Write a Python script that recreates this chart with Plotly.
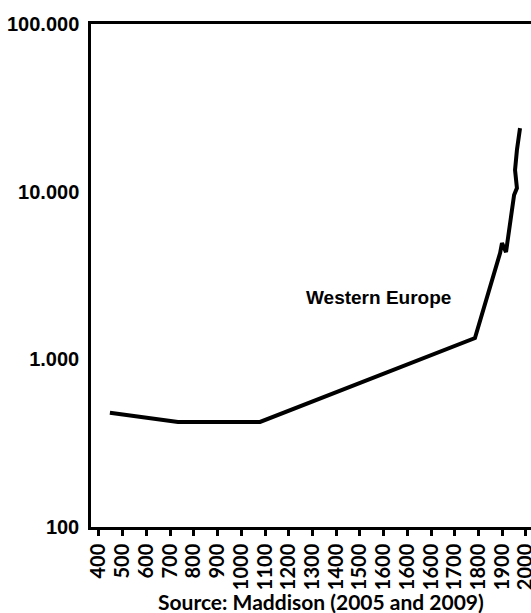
import plotly.graph_objects as go

# Tick labels as printed on the reference (note the repeated 1600)
tick_labels = ["400", "500", "600", "700", "800", "900", "1000", "1100", "1200",
               "1300", "1400", "1500", "1600", "1600", "1600", "1700", "1800",
               "1900", "2000"]
tick_positions = [400 + 100 * i for i in range(len(tick_labels))]

# Western Europe series (positions on the printed axis, GDP per capita)
we_x = [446, 733, 1079, 1985, 2091, 2099, 2116, 2124, 2141, 2150, 2162, 2154, 2162, 2175]
we_y = [480, 423, 423, 1340, 4305, 4935, 4363, 5147, 7557, 9545, 10500, 13450, 17700, 23940]

y_tickvals = [100, 1000, 10000, 100000]
y_ticktext = ["100", "1.000", "10.000", "100.000"]

fig = go.Figure()
fig.add_trace(go.Scatter(x=we_x, y=we_y, mode="lines",
                         line=dict(color="black", width=4),
                         hoverinfo="skip", showlegend=False))

fig.update_layout(
    width=531, height=613,
    margin=dict(l=91, r=0, t=24, b=86),
    paper_bgcolor="white", plot_bgcolor="white",
    showlegend=False,
    xaxis=dict(
        range=[366.3, 2221.3], automargin=False,
        tickmode="array", tickvals=tick_positions, ticktext=tick_labels,
        tickangle=-90, ticklabeloverflow="allow",
        ticks="outside", ticklen=6, tickwidth=2.5, tickcolor="black",
        showline=True, linecolor="black", linewidth=2.5, mirror=True,
        showgrid=False, zeroline=False,
        tickfont=dict(family="Lato", size=20, color="black", weight="bold"),
    ),
    yaxis=dict(
        type="log", range=[2, 5], automargin=False,
        tickmode="array", tickvals=y_tickvals, ticktext=y_ticktext,
        ticks="", showline=True, linecolor="black", linewidth=2.5,
        showgrid=False, zeroline=False, ticklabelstandoff=5,
        tickfont=dict(family="Liberation Sans", size=20, color="black", weight="bold"),
    ),
    annotations=[
        dict(x=1580, y=3.371, xref="x", yref="y", text="Western Europe",
             showarrow=False, font=dict(family="Liberation Sans", size=19, color="black", weight="bold")),
        dict(x=0.523, y=-0.149, xref="paper", yref="paper",
             text="Source: Maddison (2005 and 2009)", showarrow=False,
             xanchor="center", yanchor="middle",
             font=dict(family="Lato", size=21, color="black", weight="bold")),
    ],
)

fig.write_html(
    "out.html",
    config={"displayModeBar": False},
    post_script="document.body.style.margin='0';document.body.style.overflow='hidden';",
)
